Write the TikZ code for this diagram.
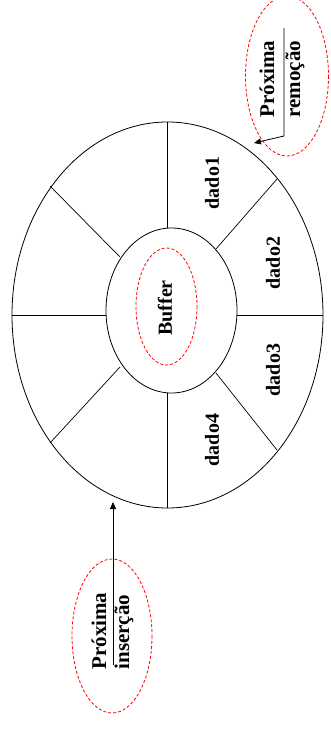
\documentclass[tikz,border=0pt]{standalone}
\usepackage{fontspec}
\setmainfont{Liberation Serif}
\usetikzlibrary{arrows.meta}
\begin{document}
\begin{tikzpicture}[x=1pt,y=-1pt,
  ring/.style={draw=black,line width=0.8pt},
  spoke/.style={draw=black,line width=0.7pt},
  hl/.style={draw=red,dashed,dash pattern=on 3pt off 2pt,line width=0.8pt},
  lbl/.style={font=\bfseries\fontsize{20}{22}\selectfont,rotate=90,inner sep=0pt},
  call/.style={font=\bfseries\fontsize{21}{23}\selectfont,rotate=90,inner sep=0pt},
  pointer/.style={draw=black,line width=0.8pt,-{Triangle[length=7pt,width=6pt]}}]
\useasboundingbox[fill=white] (0,0) rectangle (330,733);
% ellipses
\coordinate (c) at (167.5,315);
\coordinate (ci) at (171.5,310.5);
\draw[ring] (c) ellipse [x radius=155.5, y radius=193];
\draw[ring] (ci) ellipse [x radius=65.5, y radius=82.5];
% spokes
\coordinate (o1) at (167,122); \coordinate (i1) at (167,228);
\coordinate (o2) at (277,179); \coordinate (i2) at (216,249);
\coordinate (o3) at (323,315); \coordinate (i3) at (237,315);
\coordinate (o4) at (277,450); \coordinate (i4) at (216,373);
\coordinate (o5) at (167,508); \coordinate (i5) at (167,393);
\coordinate (o6) at (50,443);  \coordinate (i6) at (120,367);
\coordinate (o7) at (12,315);  \coordinate (i7) at (106,315);
\coordinate (o8) at (50,186);  \coordinate (i8) at (120,257);
\foreach \k in {1,...,8} {\draw[spoke] (o\k) -- (i\k);}
% labels
\node[lbl] (d1) at (212,183) {dado1};
\node[lbl] (d2) at (273,263) {dado2};
\node[lbl] (d3) at (273,370) {dado3};
\node[lbl] (d4) at (212,440) {dado4};
\node[lbl] (buf) at (165,308) {Buffer};
\draw[hl] (166.5,306.5) ellipse [x radius=30.5, y radius=58.5];
% next removal
\draw[hl] (287,76) ellipse [x radius=41.5, y radius=80];
\node[call] (pr) at (267,79) {Próxima};
\node[call] (rm) at (295,79) {remoção};
\coordinate (rtop) at (284,28);
\coordinate (rbend) at (284,136);
\coordinate (rtip) at (254,143);
\draw[pointer] (rtop) -- (rbend) -- (rtip);
% next insertion
\draw[hl] (112,636) ellipse [x radius=40, y radius=77];
\node[call] (pi) at (99,631) {Próxima};
\node[call] (ins) at (124,632) {inserção};
\coordinate (ibot) at (113,665);
\coordinate (itip) at (113,502);
\draw[pointer] (ibot) -- (itip);
\end{tikzpicture}
\end{document}
